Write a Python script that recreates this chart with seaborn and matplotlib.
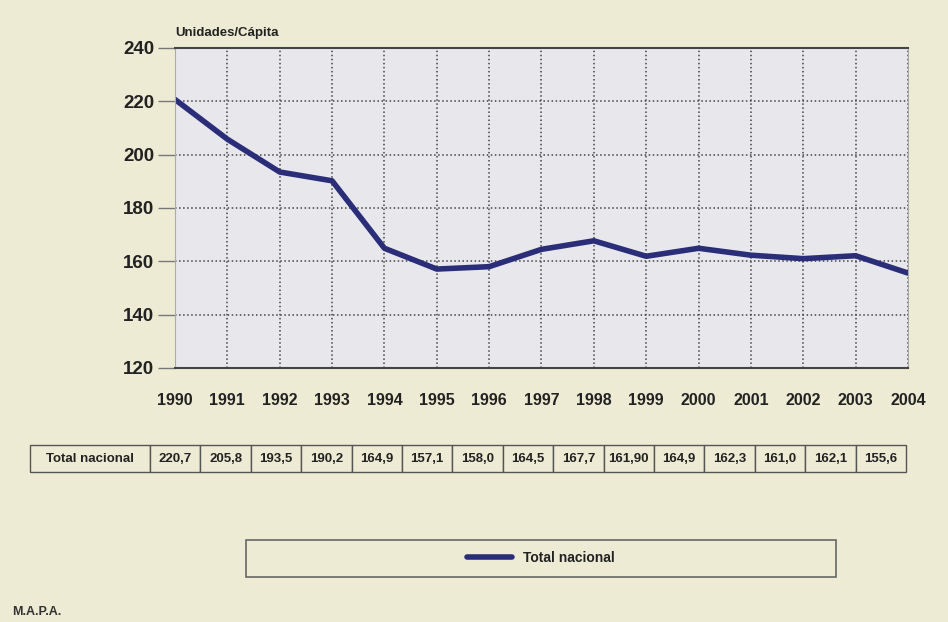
import seaborn as sns
import matplotlib.pyplot as plt
import pandas as pd
from matplotlib.patches import Rectangle

# Datos: consumo total nacional (unidades/cápita)
anios = [1990, 1991, 1992, 1993, 1994, 1995, 1996, 1997, 1998, 1999,
         2000, 2001, 2002, 2003, 2004]
total_nacional = [220.7, 205.8, 193.5, 190.2, 164.9, 157.1, 158.0, 164.5,
                  167.7, 161.9, 164.9, 162.3, 161.0, 162.1, 155.6]
etiquetas_tabla = ["220,7", "205,8", "193,5", "190,2", "164,9", "157,1", "158,0",
                   "164,5", "167,7", "161,90", "164,9", "162,3", "161,0", "162,1", "155,6"]
y_ticks = [120, 140, 160, 180, 200, 220, 240]

df = pd.DataFrame({"anio": anios, "valor": total_nacional})

fondo = "#eeebd5"
azul = "#2a2d78"

sns.set_style("white")
plt.rcParams["font.family"] = ["Liberation Sans", "DejaVu Sans"]

fig = plt.figure(figsize=(9.48, 6.22), dpi=100)
fig.patch.set_facecolor(fondo)

ax = fig.add_axes([175 / 948, 1 - 368 / 622, 733 / 948, 320 / 622])
ax.set_facecolor("#e8e7ec")
sns.lineplot(data=df, x="anio", y="valor", ax=ax, color=azul,
             linewidth=4, label="Total nacional", legend=False)

ax.set_xlim(1990, 2004)
ax.set_ylim(120, 240)
ax.set_xticks(anios)
ax.set_yticks(y_ticks)
ax.grid(True, linestyle=":", color="#444444", linewidth=1.1)
ax.tick_params(axis="y", left=True, length=12, width=1, color="#777777",
               labelsize=13.5, pad=3)
ax.tick_params(axis="x", bottom=False, length=0, labelsize=11.5, pad=18)
for lbl in ax.get_xticklabels() + ax.get_yticklabels():
    lbl.set_fontweight("bold")
    lbl.set_color("#222222")
ax.set_xlabel("")
ax.set_ylabel("")
for lado in ["top", "bottom"]:
    ax.spines[lado].set_color("#444444")
    ax.spines[lado].set_linewidth(1.5)
for lado in ["left", "right"]:
    ax.spines[lado].set_color("#aaaaaa")
    ax.spines[lado].set_linewidth(0.8)

fig.text(175 / 948, 1 - 33 / 622, "Unidades/Cápita", fontsize=9.5,
         fontweight="bold", color="#222222", ha="left", va="center")

# Tabla de valores
ax_tab = fig.add_axes([30 / 948, 1 - 472 / 622, 876 / 948, 27 / 622])
ax_tab.axis("off")
ancho_primera = 120 / 876
anchos = [ancho_primera] + [(1 - ancho_primera) / len(anios)] * len(anios)
tabla = ax_tab.table(cellText=[["Total nacional"] + etiquetas_tabla],
                     colWidths=anchos, bbox=[0, 0, 1, 1], cellLoc="center")
tabla.auto_set_font_size(False)
for (f, c), celda in tabla.get_celld().items():
    celda.set_facecolor(fondo)
    celda.set_edgecolor("#555555")
    celda.set_linewidth(1.0)
    celda.get_text().set_fontsize(9.5)
    celda.get_text().set_fontweight("bold")
    celda.get_text().set_color("#222222")

# Leyenda
fig.patches.append(Rectangle((246 / 948, 1 - 577 / 622), 590 / 948, 37 / 622,
                             transform=fig.transFigure, facecolor=fondo,
                             edgecolor="#666666", linewidth=1.2))
handles, labels = ax.get_legend_handles_labels()
leg = fig.legend(handles, labels, loc="center",
                 bbox_to_anchor=(541 / 948, 1 - 558 / 622), frameon=False,
                 fontsize=10, handlelength=3.2)
for t in leg.get_texts():
    t.set_fontweight("bold")
    t.set_color("#222222")

fig.text(12 / 948, 1 - 612 / 622, "M.A.P.A.", fontsize=9, fontweight="bold",
         color="#333333", ha="left", va="center")

plt.savefig("out.png", dpi=100, facecolor=fondo)
